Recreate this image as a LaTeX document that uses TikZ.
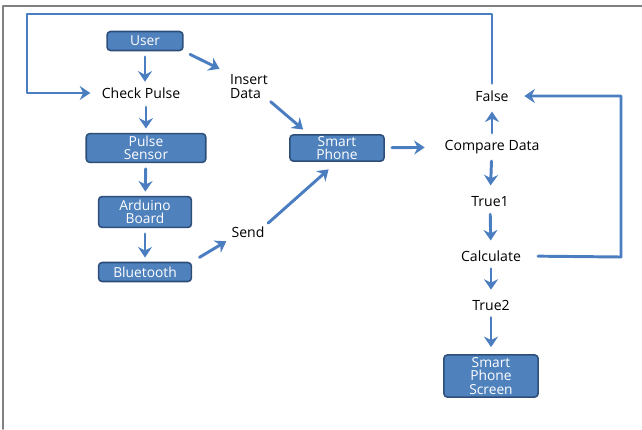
\documentclass[tikz,border=0pt]{standalone}
\usepackage{fontspec}
\setmainfont{Open Sans}
\usetikzlibrary{arrows.meta}
\definecolor{boxblue}{HTML}{4F81BD}
\definecolor{boxedge}{HTML}{2E4E7A}
\definecolor{flowblue}{HTML}{4A7EC0}
\begin{document}
\begin{tikzpicture}[x=0.025cm, y=-0.025cm, line cap=round, line join=round,
    unit/.style={draw=boxedge, line width=1.1pt, fill=boxblue, rounded corners=2.5pt,
      text=white, align=center, inner sep=1pt, font=\fontsize{9.8}{9.5}\selectfont},
    label/.style={inner sep=1pt, align=left, font=\fontsize{10}{10}\selectfont},
    flow/.style={draw=flowblue, line width=2.1pt,
      -{Stealth[length=7.5pt, width=10pt, inset=2.5pt]}}]
  \useasboundingbox (0,0) rectangle (642,429);
  \draw[gray, line width=1.2pt] (3,429) -- (3,6) -- (642,6);
  % left column
  \node[unit, minimum width=54pt, minimum height=13.5pt] (user) at (145,41) {User};
  \node[label] (check) at (141,93) {Check Pulse};
  \node[label] (insert) at (249,87) {Insert\\Data};
  \node[unit, minimum width=85pt, minimum height=20.5pt] (sensor) at (146,148) {Pulse\\Sensor};
  \node[unit, minimum width=66pt, minimum height=22pt] (arduino) at (145,212) {Arduino\\Board};
  \node[unit, minimum width=66pt, minimum height=13.5pt] (bt) at (145,272) {Bluetooth};
  \node[label] (send) at (248,232) {Send};
  \node[unit, minimum width=67pt, minimum height=18pt] (phone) at (337,148) {Smart\\Phone};
  % right column
  \node[label] (compare) at (492,147) {Compare Data};
  \node[label] (false) at (492,96) {False};
  \node[label] (true1) at (490,202) {True1};
  \node[label] (calc) at (491,256) {Calculate};
  \node[label] (true2) at (491,305) {True2};
  \node[unit, minimum width=67pt, minimum height=30pt] (screen) at (491,376) {Smart\\Phone\\Screen};
  \coordinate (topL) at (27,14);
  \coordinate (loopR) at (621,257);
  \draw[flow, shorten <=4pt, shorten >=3pt] (user.south) -- (user.south |- check.north);
  \draw[flow, shorten <=5pt, shorten >=3pt] (sensor.north |- check.south) -- (sensor.north);
  \draw[flow, shorten <=4pt, shorten >=3pt] (sensor) -- (arduino);
  \draw[flow, shorten <=4pt, shorten >=3pt] (arduino) -- (bt);
  \draw[flow, shorten <=6pt, shorten >=3pt] (bt.north east) -- (send.south west);
  \draw[flow, shorten <=2pt, shorten >=8pt] (send.north east) -- (phone.south);
  \draw[flow, shorten <=5pt, shorten >=7pt] (user.south east) -- (insert.north west);
  \draw[flow, shorten <=1pt, shorten >=5pt] (insert.south east) -- (phone.154);
  \draw[flow, shorten <=5pt, shorten >=13pt] (phone) -- (compare);
  \draw[flow, shorten <=4pt, shorten >=6pt] (compare) -- (false);
  \draw[flow, shorten <=4pt, shorten >=7pt] (compare) -- (true1);
  \draw[flow, shorten <=4pt, shorten >=6pt] (true1) -- (calc);
  \draw[flow, shorten <=4pt, shorten >=6pt] (calc) -- (true2);
  \draw[flow, shorten <=4pt, shorten >=5pt] (true2) -- (screen);
  % feedback loops
  \draw[flow, shorten <=4pt, shorten >=7pt] (false.north) |- (topL) |- (check.west);
  \draw[flow, shorten <=11pt, shorten >=10pt] (calc.east) -- (loopR) |- (false.east);
\end{tikzpicture}
\end{document}
